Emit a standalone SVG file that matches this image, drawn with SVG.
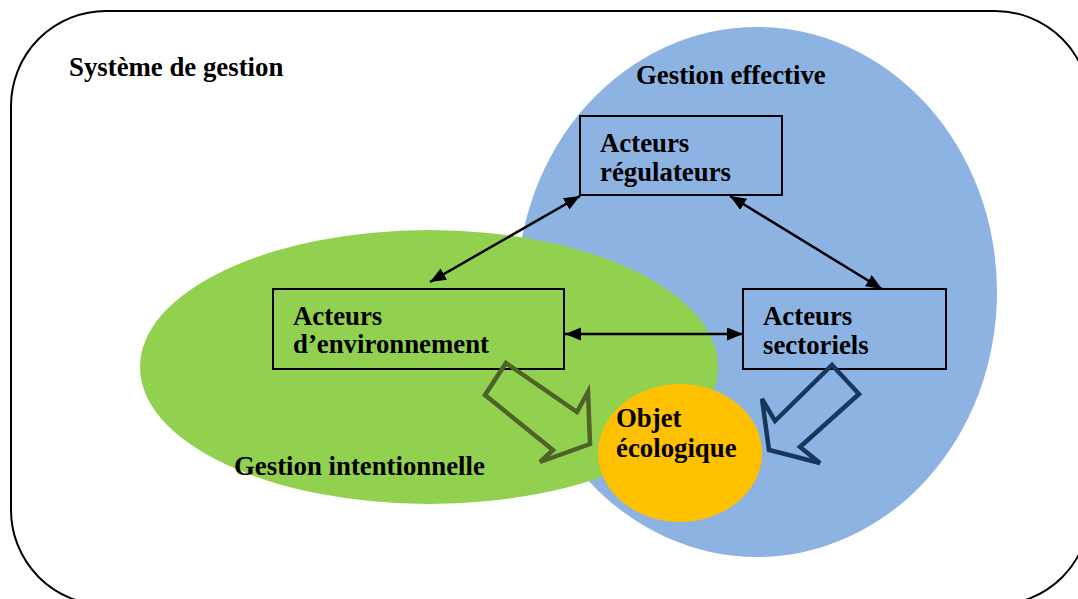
<svg xmlns="http://www.w3.org/2000/svg" width="1078" height="599" viewBox="0 0 1078 599">
<style>
.lbl{font-family:"Liberation Serif","Times New Roman",serif;font-weight:bold;font-size:26.8px;fill:#000}
.box{fill:none;stroke:#000;stroke-width:2}
.con{stroke:#000;stroke-width:2.5;fill:none;marker-start:url(#ah);marker-end:url(#ah)}
.blk{fill:none;stroke-width:4.5;stroke-linejoin:miter}
</style>
<defs>
<marker id="ah" markerUnits="userSpaceOnUse" markerWidth="17" markerHeight="14" refX="16" refY="6.5" orient="auto-start-reverse">
<path d="M0,0 L16,6.5 L0,13 Z" fill="#000"/>
</marker>
</defs>
<rect width="1078" height="599" fill="#fff"/>
<g id="systeme">
<path d="M106,11 H995 A95,95 0 0 1 1090,106 V510 A95,95 0 0 1 995,605 H106 A95,95 0 0 1 11,510 V106 A95,95 0 0 1 106,11 Z" fill="none" stroke="#000" stroke-width="2"/>
<text class="lbl" x="69" y="76">Système de gestion</text>
</g>
<g id="gestion-effective">
<ellipse cx="757" cy="292" rx="240" ry="265" fill="#8db3e2"/>
<text class="lbl" x="636" y="84">Gestion effective</text>
</g>
<g id="gestion-intentionnelle">
<ellipse cx="429" cy="367" rx="289" ry="137" fill="#92d050"/>
<text class="lbl" x="234" y="475">Gestion intentionnelle</text>
</g>
<g id="objet-ecologique">
<ellipse cx="680" cy="453" rx="82" ry="69" fill="#ffc000"/>
<text class="lbl" x="616" y="427">Objet</text>
<text class="lbl" x="616" y="457">écologique</text>
</g>
<g id="acteurs-regulateurs">
<rect class="box" x="580" y="116" width="202" height="79"/>
<text class="lbl" x="600" y="152">Acteurs</text>
<text class="lbl" x="600" y="181">régulateurs</text>
</g>
<g id="acteurs-environnement">
<rect class="box" x="273" y="289" width="291" height="80"/>
<text class="lbl" x="293" y="325">Acteurs</text>
<text class="lbl" x="293" y="353">d’environnement</text>
</g>
<g id="acteurs-sectoriels">
<rect class="box" x="743" y="289" width="203" height="80"/>
<text class="lbl" x="763" y="325">Acteurs</text>
<text class="lbl" x="763" y="354">sectoriels</text>
</g>
<g id="connectors">
<line class="con" x1="580" y1="196" x2="430" y2="282"/>
<line class="con" x1="730" y1="196" x2="882" y2="289"/>
<line class="con" x1="565" y1="334" x2="743" y2="334"/>
<polygon class="blk" stroke="#4f6228" points="506,363 577,412 588,392 590,444 540,462 553,450 485,395"/>
<polygon class="blk" stroke="#17375e" points="832,365 859,394 800,447 820,463 769,450 762,399 775,421"/>
</g>
</svg>
